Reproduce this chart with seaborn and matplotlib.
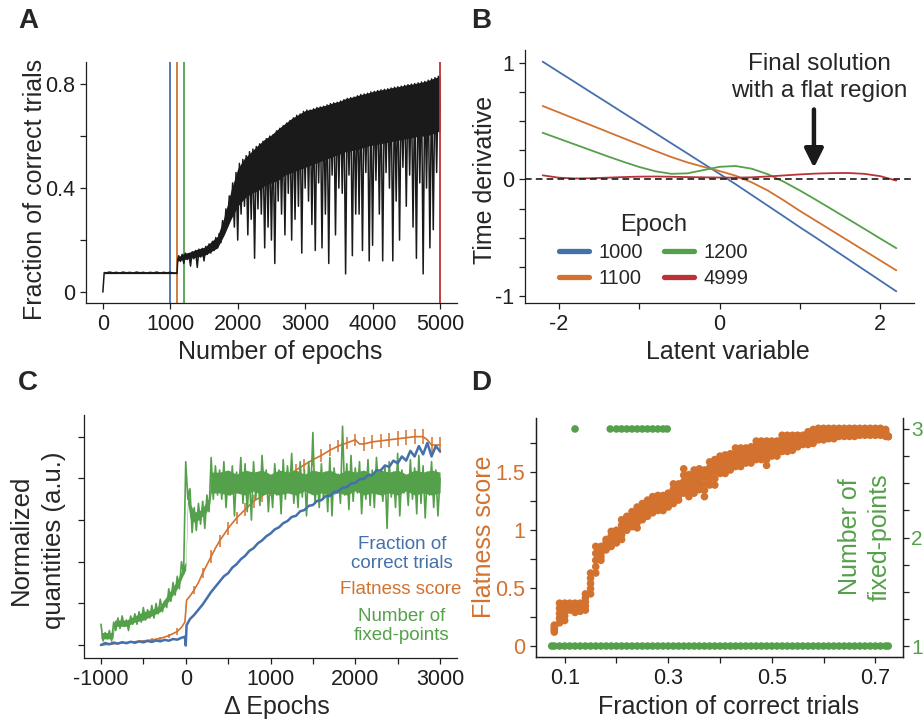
import matplotlib
matplotlib.use("Agg")
import matplotlib.pyplot as plt
from matplotlib.ticker import FixedLocator, FuncFormatter
import pandas as pd
import seaborn as sns

# ---------------------------------------------------------------- data
# Panel A: fraction of correct trials vs epoch (sampled trace)
a_epoch = [0, 20, 50, 100, 150, 200, 250, 300, 350, 400, 450, 500, 550, 600,
           650, 700, 750, 800, 850, 900, 950, 1000, 1050, 1100, 1110,
           1125, 1150, 1175, 1200, 1225, 1250, 1275, 1300,
           1325, 1350, 1375, 1400, 1425, 1450, 1475, 1500,
           1525, 1550, 1575, 1600, 1625, 1650, 1675, 1700,
           1725, 1750, 1775, 1800, 1825, 1850, 1875, 1900,
           1925, 1950, 1975, 2000, 2025, 2050, 2075, 2100,
           2125, 2150, 2175, 2200, 2225, 2250, 2275, 2300,
           2325, 2350, 2375, 2400, 2425, 2450, 2475, 2500,
           2525, 2550, 2575, 2600, 2625, 2650, 2675, 2700,
           2725, 2750, 2775, 2800, 2825, 2850, 2875, 2900,
           2925, 2950, 2975, 3000, 3025, 3050, 3075, 3100,
           3125, 3150, 3175, 3200, 3225, 3250, 3275, 3300,
           3325, 3350, 3375, 3400, 3425, 3450, 3475, 3500,
           3525, 3550, 3575, 3600, 3625, 3650, 3675, 3700,
           3725, 3750, 3775, 3800, 3825, 3850, 3875, 3900,
           3925, 3950, 3975, 4000, 4025, 4050, 4075, 4100,
           4125, 4150, 4175, 4200, 4225, 4250, 4275, 4300,
           4325, 4350, 4375, 4400, 4425, 4450, 4475, 4500,
           4525, 4550, 4575, 4600, 4625, 4650, 4675, 4700,
           4725, 4750, 4775, 4800, 4825, 4850, 4875, 4900,
           4925, 4950, 4975, 5000]
a_frac = [0.0, 0.075, 0.074, 0.077, 0.074, 0.076, 0.073, 0.077, 0.074, 0.076,
          0.073, 0.077, 0.074, 0.076, 0.073, 0.076, 0.074, 0.077, 0.073, 0.076,
          0.074, 0.076, 0.073, 0.072, 0.125,
          0.140, 0.118, 0.145, 0.110, 0.150, 0.125, 0.148, 0.100,
          0.155, 0.128, 0.160, 0.095, 0.165, 0.135, 0.168, 0.120,
          0.175, 0.145, 0.185, 0.150, 0.195, 0.160, 0.210, 0.170,
          0.225, 0.190, 0.275, 0.230, 0.320, 0.255, 0.370, 0.290,
          0.420, 0.250, 0.460, 0.200, 0.495, 0.300, 0.510, 0.330,
          0.525, 0.220, 0.540, 0.280, 0.550, 0.130, 0.560, 0.320,
          0.570, 0.300, 0.580, 0.170, 0.590, 0.250, 0.600, 0.200,
          0.605, 0.110, 0.620, 0.350, 0.630, 0.300, 0.640, 0.220,
          0.650, 0.380, 0.660, 0.200, 0.670, 0.280, 0.680, 0.330,
          0.685, 0.150, 0.695, 0.400, 0.700, 0.350, 0.700, 0.260,
          0.705, 0.160, 0.710, 0.420, 0.712, 0.170, 0.715, 0.300,
          0.720, 0.110, 0.725, 0.450, 0.728, 0.220, 0.730, 0.400,
          0.735, 0.380, 0.740, 0.070, 0.745, 0.450, 0.748, 0.140,
          0.750, 0.300, 0.755, 0.300, 0.760, 0.160, 0.762, 0.460,
          0.765, 0.120, 0.770, 0.180, 0.772, 0.430, 0.775, 0.300,
          0.778, 0.120, 0.780, 0.460, 0.782, 0.400, 0.785, 0.120,
          0.788, 0.350, 0.790, 0.200, 0.792, 0.480, 0.795, 0.330,
          0.798, 0.450, 0.800, 0.250, 0.802, 0.130, 0.805, 0.420,
          0.808, 0.070, 0.810, 0.400, 0.815, 0.170, 0.820, 0.240,
          0.825, 0.460, 0.830, 0.700]
# dense core of the trace (band that the samples fill solidly)
a_core_epoch = [20, 1095, 1110, 1200, 1300, 1400, 1500, 1600, 1700, 1800, 1900,
                2000, 2100, 2200, 2300, 2400, 2500, 2600, 2700, 2800, 2900, 3000,
                3100, 3200, 3300, 3400, 3500, 3600, 3700, 3800, 3900, 4000, 4100,
                4200, 4300, 4400, 4500, 4600, 4700, 4800, 4900, 5000]
a_core_top = [0.078, 0.078, 0.135, 0.148, 0.155, 0.165, 0.172, 0.192, 0.215, 0.290,
              0.390, 0.475, 0.515, 0.540, 0.565, 0.588, 0.605, 0.628, 0.648, 0.668,
              0.683, 0.698, 0.704, 0.712, 0.718, 0.727, 0.733, 0.744, 0.750, 0.758,
              0.764, 0.771, 0.777, 0.781, 0.787, 0.791, 0.797, 0.801, 0.806, 0.812,
              0.822, 0.830]
a_core_bottom = [0.071, 0.071, 0.120, 0.125, 0.130, 0.135, 0.140, 0.155, 0.170,
                 0.220, 0.280, 0.330, 0.360, 0.380, 0.390, 0.410, 0.420, 0.430,
                 0.450, 0.460, 0.470, 0.480, 0.490, 0.500, 0.510, 0.520, 0.530,
                 0.540, 0.545, 0.550, 0.560, 0.565, 0.570, 0.575, 0.580, 0.585,
                 0.590, 0.595, 0.600, 0.600, 0.610, 0.620]
a_marker_epochs = [1000, 1100, 1200, 4999]

# Panel B: time derivative vs latent variable for 4 epochs
b_latent = [-2.2, -2.0, -1.8, -1.6, -1.4, -1.2, -1.0, -0.8, -0.6, -0.4, -0.2, 0.0,
            0.2, 0.4, 0.6, 0.8, 1.0, 1.2, 1.4, 1.6, 1.8, 2.0, 2.2]
b_1000 = [1.010, 0.922, 0.835, 0.747, 0.660, 0.572, 0.485, 0.398, 0.310, 0.223, 0.135,
          0.048, -0.041, -0.133, -0.225, -0.317, -0.410, -0.500, -0.592, -0.684,
          -0.776, -0.868, -0.960]
b_1100 = [0.630, 0.575, 0.520, 0.465, 0.410, 0.355, 0.300, 0.245, 0.192, 0.146, 0.108,
          0.072, 0.032, -0.025, -0.095, -0.180, -0.270, -0.355, -0.440, -0.525,
          -0.610, -0.695, -0.780]
b_1200 = [0.400, 0.350, 0.300, 0.250, 0.200, 0.152, 0.107, 0.070, 0.048, 0.052, 0.080,
          0.108, 0.115, 0.092, 0.045, -0.020, -0.095, -0.175, -0.257, -0.340,
          -0.423, -0.507, -0.590]
b_4999 = [0.035, 0.015, 0.008, 0.010, 0.015, 0.020, 0.024, 0.025, 0.023, 0.020, 0.018,
          0.016, 0.015, 0.018, 0.025, 0.034, 0.043, 0.050, 0.054, 0.055, 0.048,
          0.028, -0.010]
b_epochs = ["1000", "1100", "1200", "4999"]

# Panel C: normalised quantities vs delta epochs
c_green_x = [-1000, -975, -950, -925, -900, -875, -850, -825,
             -800, -775, -750, -725, -700, -675, -650, -625,
             -600, -575, -550, -525, -500, -475, -450, -425,
             -400, -375, -350, -325, -300, -275, -250, -225,
             -200, -175, -150, -125, -100, -75, -50, -25,
             0, 25, 50, 75, 100, 125, 150, 175,
             200, 225, 250, 275, 300, 325, 350, 375,
             400, 425, 450, 475, 500, 525, 550, 575,
             600, 625, 650, 675, 700, 725, 750, 775,
             800, 825, 850, 875, 900, 925, 950, 975,
             1000, 1025, 1050, 1075, 1100, 1125, 1150, 1175,
             1200, 1225, 1250, 1275, 1300, 1325, 1350, 1375,
             1400, 1425, 1450, 1475, 1500, 1525, 1550, 1575,
             1600, 1625, 1650, 1675, 1700, 1725, 1750, 1775,
             1800, 1825, 1850, 1875, 1900, 1925, 1950, 1975,
             2000, 2025, 2050, 2075, 2100, 2125, 2150, 2175,
             2200, 2225, 2250, 2275, 2300, 2325, 2350, 2375,
             2400, 2425, 2450, 2475, 2500, 2525, 2550, 2575,
             2600, 2625, 2650, 2675, 2700, 2725, 2750, 2775,
             2800, 2825, 2850, 2875, 2900, 2925, 2950, 2975, 3000]
c_fixed_points = [0.10, 0.02, 0.06, 0.03, 0.07, 0.02, 0.11, 0.07,
                  0.13, 0.08, 0.14, 0.09, 0.12, 0.07, 0.14, 0.10,
                  0.15, 0.10, 0.16, 0.11, 0.18, 0.12, 0.17, 0.13,
                  0.19, 0.13, 0.20, 0.15, 0.22, 0.16, 0.21, 0.18,
                  0.27, 0.21, 0.30, 0.24, 0.33, 0.27, 0.40, 0.34,
                  0.88, 0.70, 0.75, 0.54, 0.66, 0.55, 0.68, 0.58,
                  0.69, 0.56, 0.72, 0.64, 0.90, 0.70, 0.86, 0.72,
                  0.84, 0.70, 0.88, 0.66, 0.80, 0.72, 0.86, 0.62,
                  0.83, 0.74, 0.90, 0.68, 0.87, 0.64, 0.81, 0.60,
                  0.88, 0.70, 0.82, 0.67, 0.91, 0.75, 0.84, 0.64,
                  0.80, 0.66, 0.87, 0.72, 0.84, 0.63, 0.89, 0.70,
                  0.86, 0.74, 0.92, 0.68, 0.82, 0.66, 0.88, 0.71,
                  0.84, 0.62, 0.88, 0.73, 1.02, 0.68, 0.81, 0.66,
                  0.87, 0.70, 0.83, 0.64, 0.90, 0.62, 0.85, 0.74,
                  0.82, 0.68, 1.05, 0.72, 0.87, 0.65, 0.91, 0.69,
                  0.85, 0.73, 0.88, 0.63, 0.82, 0.70, 0.89, 0.67,
                  0.84, 0.66, 0.90, 0.74, 0.81, 0.69, 0.86, 0.56,
                  0.88, 0.71, 0.83, 0.66, 0.92, 0.62, 0.84, 0.73,
                  0.81, 0.67, 0.89, 0.70, 0.85, 0.63, 0.91, 0.68,
                  0.86, 0.61, 0.83, 0.72, 0.88, 0.66, 0.84, 0.62, 0.80]
# dense core of the fixed-point trace
c_green_core_x = [-1000, -860, -840, -700, -600, -500, -400, -300, -200, -100,
                  -25, 0, 25, 50, 100, 150, 200, 250, 280, 300, 400, 500, 600,
                  700, 800, 900, 1000, 1100, 1200, 1300, 1400, 1500, 1600, 1700,
                  1800, 1900, 2000, 2100, 2200, 2300, 2400, 2500, 2600, 2700,
                  2800, 2900, 3000]
c_green_core_top = [0.06, 0.06, 0.12, 0.12, 0.14, 0.16, 0.17, 0.19, 0.25, 0.31,
                    0.38, 0.40, 0.76, 0.68, 0.64, 0.64, 0.66, 0.69, 0.71, 0.83,
                    0.83, 0.84, 0.82, 0.84, 0.83, 0.84, 0.82, 0.84, 0.83, 0.84,
                    0.82, 0.84, 0.83, 0.84, 0.82, 0.84, 0.83, 0.84, 0.82, 0.84,
                    0.83, 0.84, 0.82, 0.84, 0.83, 0.84, 0.83]
c_green_core_bottom = [0.03, 0.03, 0.09, 0.09, 0.11, 0.12, 0.14, 0.16, 0.21, 0.27,
                       0.34, 0.36, 0.68, 0.61, 0.59, 0.60, 0.62, 0.64, 0.67, 0.73,
                       0.73, 0.72, 0.73, 0.72, 0.74, 0.72, 0.73, 0.72, 0.73, 0.72,
                       0.74, 0.72, 0.73, 0.72, 0.73, 0.72, 0.74, 0.72, 0.73, 0.72,
                       0.73, 0.72, 0.74, 0.72, 0.73, 0.72, 0.73]

c_blue_x = [-1000, -950, -900, -850, -800, -750, -700, -650, -600, -550, -500,
            -450, -400, -350, -300, -250, -200, -150, -100, -50, -10, 0, 10,
            50, 100, 150, 200, 250, 300, 350, 400, 450, 500, 550, 600, 650,
            700, 750, 800, 850, 900, 950, 1000, 1050, 1100, 1150, 1200, 1250,
            1300, 1350, 1400, 1450, 1500, 1550, 1600, 1650, 1700, 1750, 1800,
            1850, 1900, 1950, 2000, 2050, 2100, 2150, 2200, 2250, 2300, 2350,
            2400, 2450, 2500, 2550, 2600, 2650, 2700, 2750, 2800, 2850, 2900,
            2950, 3000]
c_correct = [0.000, 0.010, 0.004, 0.012, 0.007, 0.014, 0.009, 0.016, 0.011, 0.018,
             0.013, 0.020, 0.015, 0.022, 0.018, 0.025, 0.021, 0.029, 0.026, 0.035,
             0.040, -0.002, 0.095, 0.125, 0.145, 0.170, 0.195, 0.225, 0.255, 0.280,
             0.305, 0.330, 0.345, 0.372, 0.388, 0.412, 0.428, 0.452, 0.465, 0.488,
             0.502, 0.522, 0.535, 0.555, 0.565, 0.585, 0.595, 0.615, 0.620, 0.642,
             0.648, 0.668, 0.672, 0.692, 0.695, 0.715, 0.715, 0.735, 0.738, 0.755,
             0.758, 0.775, 0.778, 0.795, 0.798, 0.815, 0.815, 0.838, 0.838, 0.862,
             0.855, 0.885, 0.872, 0.905, 0.885, 0.932, 0.905, 0.955, 0.915, 0.970,
             0.905, 0.955, 0.930]

c_flat_x = [-1000, -900, -800, -700, -600, -500, -400, -300, -200, -100, -50, -10,
            0, 10, 50, 100, 150, 200, 250, 300, 350, 400, 450, 500, 600, 700, 800,
            900, 1000, 1100, 1200, 1300, 1400, 1500, 1600, 1700, 1800, 1900, 2000,
            2050, 2100, 2200, 2300, 2400, 2500, 2600, 2700, 2800, 2850, 2900, 3000]
c_flatness = [0.000, 0.004, 0.008, 0.012, 0.016, 0.020, 0.025, 0.032, 0.045, 0.065,
              0.085, 0.110, 0.160, 0.215, 0.235, 0.265, 0.300, 0.345, 0.385, 0.425,
              0.465, 0.500, 0.530, 0.560, 0.610, 0.650, 0.690, 0.715, 0.745, 0.775,
              0.805, 0.840, 0.865, 0.890, 0.910, 0.935, 0.955, 0.970, 0.985, 0.965,
              0.965, 0.975, 0.980, 0.985, 0.990, 0.995, 1.000, 1.000, 0.985, 0.960,
              0.960]
c_flat_err = [0.003, 0.003, 0.004, 0.004, 0.005, 0.006, 0.007, 0.008, 0.010, 0.015,
              0.0, 0.0, 0.0, 0.0, 0.0, 0.020, 0.0, 0.025, 0.0, 0.030, 0.0, 0.030,
              0.0, 0.030, 0.030, 0.030, 0.030, 0.030, 0.030, 0.030, 0.030, 0.030,
              0.030, 0.030, 0.030, 0.030, 0.030, 0.030, 0.030, 0.0, 0.035, 0.035,
              0.035, 0.035, 0.035, 0.035, 0.035, 0.035, 0.0, 0.040, 0.040]

# Panel D: flatness score / number of fixed points vs fraction correct
d_frac = [0.08, 0.09, 0.10, 0.11, 0.12, 0.13, 0.14, 0.15, 0.16, 0.17, 0.18, 0.19,
          0.20, 0.21, 0.22, 0.23, 0.24, 0.25, 0.26, 0.27, 0.28, 0.29, 0.30, 0.31,
          0.32, 0.33, 0.34, 0.35, 0.36, 0.37, 0.38, 0.39, 0.40, 0.41, 0.42, 0.43,
          0.44, 0.45, 0.46, 0.47, 0.48, 0.49, 0.50, 0.51, 0.52, 0.53, 0.54, 0.55,
          0.56, 0.57, 0.58, 0.59, 0.60, 0.61, 0.62, 0.63, 0.64, 0.65, 0.66, 0.67,
          0.68, 0.69, 0.70, 0.71, 0.72, 0.725]
d_flat_low = [0.12, 0.20, 0.22, 0.31, 0.29, 0.30, 0.31, 0.45, 0.63, 0.74, 0.83, 0.86,
              0.89, 0.92, 1.00, 1.03, 1.02, 1.09, 1.12, 1.15, 1.17, 1.17, 1.20, 1.23,
              1.26, 1.32, 1.29, 1.32, 1.35, 1.29, 1.39, 1.39, 1.49, 1.49, 1.52, 1.55,
              1.55, 1.58, 1.58, 1.61, 1.61, 1.56, 1.64, 1.64, 1.68, 1.68, 1.69, 1.72,
              1.74, 1.74, 1.75, 1.78, 1.78, 1.79, 1.79, 1.81, 1.81, 1.81, 1.81, 1.82,
              1.82, 1.82, 1.82, 1.82, 1.81, 1.81]
d_flat_q1 = [0.135, 0.24, 0.26, 0.325, 0.31, 0.315, 0.345, 0.495, 0.685, 0.77, 0.85,
             0.89, 0.92, 0.96, 1.03, 1.065, 1.065, 1.125, 1.155, 1.185, 1.205, 1.205,
             1.23, 1.27, 1.295, 1.37, 1.335, 1.37, 1.395, 1.345, 1.44, 1.445, 1.525,
             1.53, 1.555, 1.59, 1.59, 1.61, 1.615, 1.65, 1.65, 1.61, 1.67, 1.67,
             1.715, 1.715, 1.72, 1.745, 1.76, 1.765, 1.78, 1.805, 1.805, 1.81, 1.81,
             1.83, 1.83, 1.83, 1.83, 1.835, 1.835, 1.835, 1.835, 1.835, 1.825, 1.81]
d_flat_mid = [0.15, 0.28, 0.30, 0.34, 0.33, 0.33, 0.38, 0.54, 0.74, 0.80, 0.87, 0.92,
              0.95, 1.00, 1.06, 1.10, 1.11, 1.16, 1.19, 1.22, 1.24, 1.24, 1.26, 1.31,
              1.33, 1.42, 1.38, 1.42, 1.44, 1.40, 1.49, 1.50, 1.56, 1.57, 1.59, 1.63,
              1.63, 1.64, 1.65, 1.69, 1.69, 1.66, 1.70, 1.70, 1.75, 1.75, 1.75, 1.77,
              1.78, 1.79, 1.81, 1.83, 1.83, 1.83, 1.83, 1.85, 1.85, 1.85, 1.85, 1.85,
              1.85, 1.85, 1.85, 1.85, 1.84, 1.81]
d_flat_q3 = [0.165, 0.325, 0.335, 0.355, 0.35, 0.35, 0.415, 0.585, 0.80, 0.83, 0.895,
             0.955, 0.975, 1.045, 1.09, 1.13, 1.155, 1.195, 1.225, 1.255, 1.27, 1.27,
             1.29, 1.355, 1.365, 1.475, 1.43, 1.47, 1.485, 1.46, 1.54, 1.555, 1.60,
             1.61, 1.625, 1.67, 1.67, 1.675, 1.685, 1.73, 1.73, 1.715, 1.735, 1.735,
             1.785, 1.785, 1.785, 1.795, 1.80, 1.82, 1.84, 1.855, 1.855, 1.855, 1.855,
             1.865, 1.865, 1.865, 1.865, 1.865, 1.865, 1.865, 1.865, 1.865, 1.855, 1.81]
d_flat_high = [0.18, 0.37, 0.37, 0.37, 0.37, 0.37, 0.45, 0.63, 0.86, 0.86, 0.92, 0.99,
               1.00, 1.09, 1.12, 1.16, 1.20, 1.23, 1.26, 1.29, 1.30, 1.30, 1.32, 1.40,
               1.40, 1.53, 1.48, 1.52, 1.53, 1.52, 1.59, 1.61, 1.64, 1.65, 1.66, 1.71,
               1.71, 1.71, 1.72, 1.77, 1.77, 1.77, 1.77, 1.77, 1.82, 1.82, 1.82, 1.82,
               1.82, 1.85, 1.87, 1.88, 1.88, 1.88, 1.88, 1.88, 1.88, 1.88, 1.88, 1.88,
               1.88, 1.88, 1.88, 1.88, 1.87, 1.81]
d_fp_frac = [0.075, 0.08, 0.09, 0.10, 0.11, 0.12, 0.13, 0.14, 0.15, 0.16, 0.17, 0.18,
             0.19, 0.20, 0.21, 0.22, 0.23, 0.24, 0.25, 0.26, 0.27, 0.28, 0.29, 0.30,
             0.31, 0.32, 0.33, 0.34, 0.35, 0.36, 0.37, 0.38, 0.39, 0.40, 0.41, 0.42,
             0.43, 0.44, 0.45, 0.46, 0.47, 0.48, 0.49, 0.50, 0.51, 0.52, 0.53, 0.54,
             0.55, 0.56, 0.57, 0.58, 0.59, 0.60, 0.61, 0.62, 0.63, 0.64, 0.65, 0.66,
             0.67, 0.68, 0.69, 0.70, 0.71, 0.72, 0.725,
             0.12, 0.188, 0.20, 0.21, 0.22, 0.23, 0.24, 0.25, 0.26, 0.27, 0.28, 0.29,
             0.298]
d_fp_count = [1] * 67 + [3] * 13

# ---------------------------------------------------------------- style
BLUE, ORANGE, GREEN, RED = "#4470ab", "#d3722f", "#55a04a", "#bb3236"
INK = "#1e1e1e"
TRACE = "#1a1a1a"
sns.set_theme(style="ticks")
plt.rcParams["font.family"] = ["Liberation Sans", "DejaVu Sans"]
plt.rcParams["axes.unicode_minus"] = False
plt.rcParams.update({
    "axes.edgecolor": INK, "axes.linewidth": 0.9,
    "xtick.color": INK, "ytick.color": INK,
    "xtick.labelsize": 15.5, "ytick.labelsize": 15.5,
    "xtick.major.size": 4.5, "ytick.major.size": 4.5,
    "xtick.minor.size": 4.5, "ytick.minor.size": 4.5,
    "xtick.major.width": 0.9, "ytick.major.width": 0.9,
    "xtick.minor.width": 0.9, "ytick.minor.width": 0.9,
    "xtick.labelcolor": INK, "ytick.labelcolor": INK,
})

W, H = 924, 719
fig = plt.figure(figsize=(W / 100, H / 100), dpi=100)


def rect(l, t, r, b):
    return [l / W, 1 - b / H, (r - l) / W, (b - t) / H]


def fx(px):
    return px / W


def fy(py):
    return 1 - py / H


fmt = FuncFormatter(lambda v, p: f"{v:g}")
LAB = 18

# ---------------------------------------------------------------- panel A
axA = fig.add_axes(rect(86, 62, 457, 303))
for ep, col in zip(a_marker_epochs, [BLUE, ORANGE, GREEN, RED]):
    axA.axvline(ep, color=col, lw=1.3, zorder=3 if ep > 4000 else 1)
axA.fill_between(a_core_epoch, a_core_bottom, a_core_top, color=TRACE, lw=0,
                 zorder=2)
sns.lineplot(x=a_epoch, y=a_frac, color=TRACE, lw=1.1, sort=False,
             estimator=None, ax=axA, zorder=2)
axA.set_xlim(-250, 5252)
axA.set_ylim(-0.042, 0.885)
axA.xaxis.set_major_locator(FixedLocator([0, 1000, 2000, 3000, 4000, 5000]))
axA.yaxis.set_major_locator(FixedLocator([0, 0.4, 0.8]))
axA.yaxis.set_minor_locator(FixedLocator([0.2, 0.6]))
axA.yaxis.set_major_formatter(fmt)
sns.despine(ax=axA)
fig.text(fx(35), fy(189), "Fraction of correct trials", rotation=90,
         ha="center", va="center", fontsize=LAB)
fig.text(fx(280), fy(352), "Number of epochs", ha="center", va="center",
         fontsize=LAB)

# ---------------------------------------------------------------- panel B
axB = fig.add_axes(rect(525, 50, 914, 303))
dfB = pd.DataFrame({
    "latent": b_latent * 4,
    "deriv": b_1000 + b_1100 + b_1200 + b_4999,
    "Epoch": sum([[e] * len(b_latent) for e in b_epochs], []),
})
sns.lineplot(data=dfB, x="latent", y="deriv", hue="Epoch",
             palette=dict(zip(b_epochs, [BLUE, ORANGE, GREEN, RED])),
             lw=1.3, sort=False, estimator=None, ax=axB)
axB.axhline(0, color="k", ls=(0, (4, 2.5)), lw=1.2, zorder=4)
axB.set_xlim(-2.42, 2.42)
axB.set_ylim(-1.06, 1.11)
axB.xaxis.set_major_locator(FixedLocator([-2, 0, 2]))
axB.xaxis.set_minor_locator(FixedLocator([-1, 1]))
axB.yaxis.set_major_locator(FixedLocator([-1, 0, 1]))
axB.yaxis.set_minor_locator(FixedLocator([-0.75, -0.5, -0.25, 0.25, 0.5, 0.75]))
axB.xaxis.set_major_formatter(fmt)
axB.yaxis.set_major_formatter(fmt)
axB.set_xlabel("")
axB.set_ylabel("")
sns.despine(ax=axB)
leg = axB.legend(title="Epoch", ncol=2, frameon=False, loc="lower left",
                 bbox_to_anchor=(0.04, -0.012), fontsize=14.5, title_fontsize=17,
                 handlelength=1.5, handletextpad=0.5, columnspacing=1.0,
                 labelspacing=0.35)
for h in leg.legend_handles:
    h.set_linewidth(3.8)
axB.annotate("", xy=(1.175, 0.10), xytext=(1.175, 0.60),
             arrowprops=dict(arrowstyle="-|>", color="k", lw=3.2,
                             mutation_scale=28, shrinkA=0, shrinkB=0))
fig.text(fx(819), fy(77.5), "Final solution\nwith a flat region",
         ha="center", va="center", fontsize=17.5, linespacing=1.3)
fig.text(fx(485), fy(180), "Time derivative", rotation=90, ha="center",
         va="center", fontsize=LAB)
fig.text(fx(728), fy(352), "Latent variable", ha="center", va="center",
         fontsize=LAB)

# ---------------------------------------------------------------- panel C
axC = fig.add_axes(rect(84, 415, 457, 658))
sns.lineplot(x=c_flat_x, y=c_flatness, color=ORANGE, lw=1.2, sort=False,
             estimator=None, ax=axC, zorder=2)
axC.errorbar(c_flat_x, c_flatness, yerr=c_flat_err, fmt="none", ecolor=ORANGE,
             elinewidth=1.1, capsize=0, zorder=2)
axC.fill_between(c_green_core_x, c_green_core_bottom, c_green_core_top,
                 color=GREEN, lw=0, zorder=3)
sns.lineplot(x=c_green_x, y=c_fixed_points, color=GREEN, lw=1.2, sort=False,
             estimator=None, ax=axC, zorder=3)
sns.lineplot(x=c_blue_x, y=c_correct, color=BLUE, lw=1.8, sort=False,
             estimator=None, ax=axC, zorder=4)
axC.set_xlim(-1200, 3200)
axC.set_ylim(-0.062, 1.104)
axC.xaxis.set_major_locator(FixedLocator([-1000, 0, 1000, 2000, 3000]))
axC.xaxis.set_minor_locator(FixedLocator([-500, 500, 1500, 2500]))
axC.xaxis.set_major_formatter(fmt)
axC.yaxis.set_major_locator(FixedLocator([0, 0.2, 0.4, 0.6, 0.8, 1.0]))
axC.set_yticklabels([])
sns.despine(ax=axC)
fig.text(fx(402), fy(554), "Fraction of\ncorrect trials", color=BLUE,
         ha="center", va="center", fontsize=13.5)
fig.text(fx(401), fy(590), "Flatness score", color=ORANGE,
         ha="center", va="center", fontsize=13.5)
fig.text(fx(402), fy(626), "Number of\nfixed-points", color=GREEN,
         ha="center", va="center", fontsize=13.5)
fig.text(fx(37.5), fy(540), "Normalized\nquantities (a.u.)", rotation=90,
         ha="center", va="center", fontsize=18.5, linespacing=1.45)
fig.text(fx(276.5), fy(707), "\u0394 Epochs", ha="center", va="center",
         fontsize=LAB)

# ---------------------------------------------------------------- panel D
axD = fig.add_axes(rect(536, 418, 903, 657))
sns.scatterplot(x=d_frac * 5,
                y=d_flat_low + d_flat_q1 + d_flat_mid + d_flat_q3 + d_flat_high,
                color=ORANGE, s=30, edgecolor="none", linewidth=0, ax=axD)
axD.set_xlim(0.0446, 0.7535)
axD.set_ylim(-0.095, 1.969)
axD.xaxis.set_major_locator(FixedLocator([0.1, 0.3, 0.5, 0.7]))
axD.xaxis.set_minor_locator(FixedLocator([0.2, 0.4, 0.6]))
axD.xaxis.set_major_formatter(fmt)
axD.yaxis.set_major_locator(FixedLocator([0, 0.5, 1, 1.5]))
axD.yaxis.set_minor_locator(FixedLocator([0.25, 0.75, 1.25, 1.75]))
axD.yaxis.set_major_formatter(fmt)
axD.tick_params(axis="y", labelcolor=ORANGE)
axD.spines["top"].set_visible(False)
axD2 = axD.twinx()
sns.scatterplot(x=d_fp_frac, y=d_fp_count, color=GREEN, s=30,
                edgecolor="none", linewidth=0, ax=axD2)
axD2.set_ylim(0.899, 3.101)
axD2.yaxis.set_major_locator(FixedLocator([1, 2, 3]))
axD2.yaxis.set_minor_locator(FixedLocator([1.25, 1.5, 1.75, 2.25, 2.5, 2.75]))
axD2.yaxis.set_major_formatter(fmt)
axD2.tick_params(axis="y", labelcolor=GREEN, labelsize=15, pad=1.5)
axD2.spines["top"].set_visible(False)
axD2.set_ylabel("")
axD.set_ylabel("")
fig.text(fx(484), fy(537), "Flatness score", rotation=90, color=ORANGE,
         ha="center", va="center", fontsize=LAB)
fig.text(fx(865), fy(537), "Number of\nfixed-points", rotation=90, color=GREEN,
         ha="center", va="center", fontsize=LAB, linespacing=1.3)
fig.text(fx(729), fy(707), "Fraction of correct trials", ha="center",
         va="center", fontsize=LAB)

# ---------------------------------------------------------------- letters
for letter, (px, py) in zip("ABCD", [(28, 21), (481, 21), (28, 383), (481, 383)]):
    fig.text(fx(px), fy(py), letter, fontsize=20, fontweight="bold",
             ha="center", va="center")

fig.savefig("out.png", dpi=100)
